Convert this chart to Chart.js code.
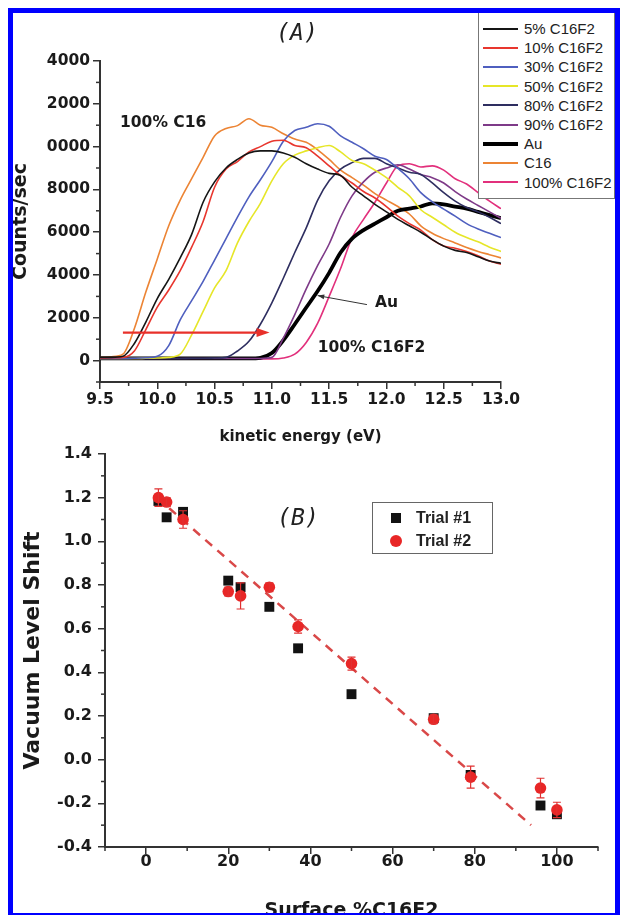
<!DOCTYPE html>
<html><head><meta charset="utf-8">
<script src="https://cdn.jsdelivr.net/npm/chart.js@4.4.1/dist/chart.umd.min.js"></script>
<style>
html,body{margin:0;padding:0;background:#fff;}
body{width:621px;height:915px;overflow:hidden;position:relative;font-family:"DejaVu Sans",sans-serif;}
canvas{position:absolute;left:0;}
#cA{top:0;}
#cB{top:440px;}
.frame{position:absolute;left:8px;top:8px;width:612px;height:910px;box-sizing:border-box;border:5px solid #0000ff;z-index:10;pointer-events:none;}
.panel{position:absolute;width:80px;text-align:center;font-family:"DejaVu Sans Mono",monospace;font-style:italic;font-size:23px;line-height:28px;color:#222;}
#legA{position:absolute;left:478px;top:12px;width:137px;height:187px;box-sizing:border-box;border:1px solid #777;background:#fff;font-family:"Liberation Sans",Arial,sans-serif;font-size:15px;color:#222;}
#legA .row{position:absolute;left:4px;height:19px;line-height:19px;white-space:nowrap;}
#legA .sw{position:absolute;left:0;width:35px;}
#legA .tx{position:absolute;left:41px;top:0;}
#legB{position:absolute;left:372px;top:502px;width:121px;height:52px;box-sizing:border-box;border:1px solid #666;background:#fff;font-family:"Liberation Sans",Arial,sans-serif;font-weight:bold;font-size:16px;color:#222;}
#legB .row{position:absolute;left:0;height:22px;line-height:22px;white-space:nowrap;}
#legB .mk{position:absolute;}
#legB .tx{position:absolute;left:43px;top:0;}
</style>
</head>
<body>
<canvas id="cA" width="621" height="460"></canvas>
<canvas id="cB" width="621" height="490"></canvas>
<div class="panel" style="left:257px;top:18px">(A)</div>
<div class="panel" style="left:258px;top:503px">(B)</div>
<div id="legA"></div>
<div id="legB"></div>
<div class="frame"></div>
<script>
// ---------- Panel A data ----------
const energy = [9.5,9.6,9.7,9.8,9.9,10.0,10.1,10.2,10.3,10.4,10.5,10.6,10.7,10.8,10.9,11.0,11.1,11.2,11.3,11.4,11.5,11.6,11.7,11.8,11.9,12.0,12.1,12.2,12.3,12.4,12.5,12.6,12.7,12.8,12.9,13.0];
const c5   = [150,150,200,800,1800,2900,3800,4800,5900,7400,8350,9000,9400,9700,9800,9800,9700,9500,9200,8950,8750,8650,8100,7700,7300,6950,6600,6300,6000,5650,5350,5150,5050,4850,4650,4550];
const c10  = [120,130,150,450,1450,2500,3300,4200,5300,6500,8100,8950,9300,9750,10000,10250,10300,10050,9950,9550,9100,8650,8300,7900,7600,7200,6750,6400,6100,5650,5350,5250,5100,4900,4650,4500];
const c30  = [100,100,100,110,130,200,700,1900,2800,3700,4700,5700,6700,7650,8450,9300,10250,10750,10900,11070,10950,10500,10200,9900,9550,9400,8980,8500,7850,7420,7080,6750,6400,6150,5950,5750];
const c50  = [100,100,100,100,110,120,150,300,1200,2300,3400,4200,5500,6500,7350,8400,9200,9600,9800,9950,10050,9750,9350,9200,8900,8550,8100,7700,7050,6700,6350,6000,5750,5550,5300,5100];
const c80  = [100,100,100,100,100,100,100,100,110,110,120,150,450,900,1700,2700,3850,5050,6200,7500,8400,8950,9250,9450,9450,9200,9000,8800,8700,8300,7850,7450,7150,6950,6700,6400];
const c90  = [100,100,100,100,100,100,100,100,100,100,100,100,100,100,100,150,1050,2150,3350,4450,5450,6700,7700,8350,8800,9000,9150,8950,8700,8550,8300,7900,7550,7250,6950,6650];
const auCurve = [100,100,100,100,100,100,100,100,100,100,100,100,100,100,130,350,950,1700,2480,3250,4100,5050,5700,6100,6400,6700,7000,7100,7200,7350,7300,7200,7100,6950,6800,6650];
const c16  = [150,180,300,1500,3200,4750,6300,7500,8500,9500,10500,10850,10980,11300,11000,10900,10600,10350,10200,9850,9400,8900,8550,8200,7800,7500,7200,6850,6300,5950,5700,5500,5280,5100,4950,4800];
const c100 = [80,80,80,80,80,80,80,80,80,80,80,80,80,80,80,80,120,300,850,1750,3000,4300,5750,6600,7400,8300,9100,9200,9050,9100,8900,8500,8250,7850,7450,7100];

const seriesNamesA = ["5% C16F2","10% C16F2","30% C16F2","50% C16F2","80% C16F2","90% C16F2","Au","C16","100% C16F2"];
const seriesA = [c5, c10, c30, c50, c80, c90, auCurve, c16, c100];
const colorsA = ["#151515","#e8362e","#4f5fbf","#e6e628","#2e2e60","#7e3a88","#000000","#ec8434","#e2307c"];
const widthsA = [1.6,1.6,1.6,1.6,1.6,1.6,3.8,1.6,1.6];

const energyTicks = [9.5,10.0,10.5,11.0,11.5,12.0,12.5,13.0];
const energyMinor = [9.75,10.25,10.75,11.25,11.75,12.25,12.75];
const countTicks = [0,2000,4000,6000,8000,10000,12000,14000];
const countTickLabels = ["0","2000","4000","6000","8000","0000","2000","4000"];
const countMinor = [-1000,1000,3000,5000,7000,9000,11000,13000];

// ---------- Panel B data ----------
const trialNames = ["Trial #1","Trial #2"];
const surfX  = [3,5,9,20,23,30,37,50,70,79,96,100];
const trial1 = [1.185,1.11,1.135,0.82,0.79,0.70,0.51,0.30,0.19,-0.07,-0.21,-0.25];
const trial2 = [1.20,1.18,1.10,0.77,0.75,0.79,0.61,0.44,0.185,-0.08,-0.13,-0.23];
const trial2Err = [0.04,0.02,0.04,0.02,0.06,0.02,0.03,0.03,0.02,0.05,0.045,0.035];
const fitX = [2.7,93.7];
const fitY = [1.20,-0.30];
const surfTicks = [0,20,40,60,80,100];
const surfMinor = [-10,10,30,50,70,90,110];
const shiftTicks = [-0.4,-0.2,0.0,0.2,0.4,0.6,0.8,1.0,1.2,1.4];
const shiftMinor = [-0.3,-0.1,0.1,0.3,0.5,0.7,0.9,1.1,1.3];

// ---------- plugins ----------
const minorTicks = {
  id:'minorTicks',
  afterDraw(chart, args, o){
    const ctx = chart.ctx, xs = chart.scales.x, ys = chart.scales.y;
    ctx.save(); ctx.strokeStyle = o.color; ctx.lineWidth = o.width;
    (o.x||[]).forEach(v=>{const p=xs.getPixelForValue(v);ctx.beginPath();ctx.moveTo(p,xs.top);ctx.lineTo(p,xs.top+o.length);ctx.stroke();});
    (o.y||[]).forEach(v=>{const p=ys.getPixelForValue(v);ctx.beginPath();ctx.moveTo(ys.right,p);ctx.lineTo(ys.right-o.length,p);ctx.stroke();});
    ctx.restore();
  }
};

const annotA = {
  id:'annotA',
  afterDatasetsDraw(chart, args, o){
    const ctx = chart.ctx, xs = chart.scales.x, ys = chart.scales.y;
    const X = v=>xs.getPixelForValue(v), Y = v=>ys.getPixelForValue(v);
    ctx.save();
    const a = o.arrow;
    const x1=X(a.from[0]), y1=Y(a.from[1]), x2=X(a.to[0]), y2=Y(a.to[1]);
    ctx.strokeStyle=a.color; ctx.fillStyle=a.color; ctx.lineWidth=2.2;
    ctx.beginPath(); ctx.moveTo(x1,y1); ctx.lineTo(x2-10,y2); ctx.stroke();
    ctx.beginPath(); ctx.moveTo(x2,y2); ctx.lineTo(x2-13,y2-4.5); ctx.lineTo(x2-13,y2+4.5); ctx.closePath(); ctx.fill();
    const p = o.pointer;
    const px1=X(p.from[0]), py1=Y(p.from[1]), px2=X(p.to[0]), py2=Y(p.to[1]);
    ctx.strokeStyle='#333'; ctx.fillStyle='#333'; ctx.lineWidth=1;
    ctx.beginPath(); ctx.moveTo(px1,py1); ctx.lineTo(px2,py2); ctx.stroke();
    const ang = Math.atan2(py2-py1, px2-px1);
    ctx.beginPath(); ctx.moveTo(px2,py2);
    ctx.lineTo(px2-7*Math.cos(ang-0.35), py2-7*Math.sin(ang-0.35));
    ctx.lineTo(px2-7*Math.cos(ang+0.35), py2-7*Math.sin(ang+0.35));
    ctx.closePath(); ctx.fill();
    ctx.fillStyle='#1a1a1a'; ctx.font='bold 15.5px "DejaVu Sans"'; ctx.textAlign='left'; ctx.textBaseline='middle';
    o.texts.forEach(t=>ctx.fillText(t.text, X(t.at[0]), Y(t.at[1])));
    ctx.restore();
  }
};

const errBars = {
  id:'errBars',
  afterDatasetsDraw(chart, args, o){
    const ctx = chart.ctx, xs = chart.scales.x, ys = chart.scales.y;
    ctx.save(); ctx.strokeStyle=o.color; ctx.lineWidth=1.2;
    o.x.forEach((xv,i)=>{
      const px=xs.getPixelForValue(xv), lo=ys.getPixelForValue(o.y[i]-o.err[i]), hi=ys.getPixelForValue(o.y[i]+o.err[i]);
      ctx.beginPath(); ctx.moveTo(px,lo); ctx.lineTo(px,hi);
      ctx.moveTo(px-4,lo); ctx.lineTo(px+4,lo); ctx.moveTo(px-4,hi); ctx.lineTo(px+4,hi); ctx.stroke();
    });
    ctx.restore();
  }
};

const axisCol = '#333';
const tickFont = (s)=>({family:'DejaVu Sans', weight:'bold', size:s, lineHeight:1});

// ---------- Chart A ----------
new Chart(document.getElementById('cA'), {
  type:'line',
  data:{ datasets: seriesA.map((arr,i)=>({
    label: seriesNamesA[i],
    data: energy.map((e,j)=>({x:e, y:arr[j]})),
    borderColor: colorsA[i], backgroundColor: colorsA[i], borderWidth: widthsA[i],
    pointRadius:0, fill:false, cubicInterpolationMode:'monotone'
  }))},
  options:{
    responsive:false, animation:false, devicePixelRatio:1,
    layout:{padding:{left:0, top:61, right:120, bottom:0}},
    plugins:{
      legend:{display:false}, tooltip:{enabled:false},
      minorTicks:{x:energyMinor, y:countMinor, length:4, color:axisCol, width:1.5},
      annotA:{
        arrow:{from:[9.70,1310], to:[10.98,1310], color:'#e8302a'},
        pointer:{from:[11.83,2617], to:[11.40,3037]},
        texts:[{text:'100% C16', at:[9.675,11120]},{text:'Au', at:[11.90,2710]},{text:'100% C16F2', at:[11.40,607]}]
      }
    },
    scales:{
      x:{type:'linear', min:9.5, max:13.0,
        afterBuildTicks(s){ s.ticks = energyTicks.map(v=>({value:v})); },
        afterFit(s){ s.height = 78; },
        border:{color:axisCol, width:2},
        grid:{drawOnChartArea:false, drawTicks:true, tickLength:7, color:axisCol, lineWidth:1.5},
        ticks:{font:tickFont(15.5), color:'#1a1a1a', padding:3, maxRotation:0, autoSkip:false, callback:v=>Number(v).toFixed(1)},
        title:{display:true, text:'kinetic energy (eV)', color:'#1a1a1a', font:{family:'DejaVu Sans', weight:'bold', size:15}, padding:{top:0,bottom:14}}
      },
      y:{type:'linear', min:-1000, max:14000,
        afterBuildTicks(s){ s.ticks = countTicks.map(v=>({value:v})); },
        afterFit(s){ s.width = 100; },
        border:{color:axisCol, width:2},
        grid:{drawOnChartArea:false, drawTicks:true, tickLength:7, color:axisCol, lineWidth:1.5},
        ticks:{font:tickFont(15.5), color:'#1a1a1a', padding:3, autoSkip:false, callback:v=>countTickLabels[countTicks.indexOf(v)]},
        title:{display:true, text:'Counts/sec', color:'#1a1a1a', font:{family:'DejaVu Sans', weight:'bold', size:19}, padding:{top:10,bottom:0}}
      }
    }
  },
  plugins:[minorTicks, annotA]
});

// ---------- Chart B ----------
new Chart(document.getElementById('cB'), {
  type:'scatter',
  data:{ datasets:[
    {label:'fit', data: fitX.map((x,i)=>({x, y:fitY[i]})), showLine:true, borderColor:'#d94848', borderDash:[9,7], borderWidth:2.5, pointRadius:0, order:3},
    {label:trialNames[0], data: surfX.map((x,i)=>({x, y:trial1[i]})), pointStyle:'rect', pointRadius:7, backgroundColor:'#121212', borderColor:'#121212', borderWidth:0, order:2},
    {label:trialNames[1], data: surfX.map((x,i)=>({x, y:trial2[i]})), pointStyle:'circle', pointRadius:5.8, backgroundColor:'#e82626', borderColor:'#e82626', borderWidth:0, order:1}
  ]},
  options:{
    responsive:false, animation:false, devicePixelRatio:1,
    layout:{padding:{left:0, top:9, right:23, bottom:0}},
    plugins:{
      legend:{display:false}, tooltip:{enabled:false},
      minorTicks:{x:surfMinor, y:shiftMinor, length:4, color:axisCol, width:1.5},
      errBars:{x:surfX, y:trial2, err:trial2Err, color:'#e03030'}
    },
    scales:{
      x:{type:'linear', min:-10, max:110,
        afterBuildTicks(s){ s.ticks = surfTicks.map(v=>({value:v})); },
        afterFit(s){ s.height = 83; },
        border:{color:axisCol, width:2},
        grid:{drawOnChartArea:false, drawTicks:true, tickLength:7, color:axisCol, lineWidth:1.5},
        ticks:{font:tickFont(16), color:'#1a1a1a', padding:0, maxRotation:0, autoSkip:false, callback:v=>String(v)},
        title:{display:true, text:'Surface %C16F2', color:'#1a1a1a', font:{family:'DejaVu Sans', weight:'bold', size:19}, padding:{top:0,bottom:8}}
      },
      y:{type:'linear', min:-0.4, max:1.4,
        afterBuildTicks(s){ s.ticks = shiftTicks.map(v=>({value:v})); },
        afterFit(s){ s.width = 105; },
        border:{color:axisCol, width:2},
        grid:{drawOnChartArea:false, drawTicks:true, tickLength:7, color:axisCol, lineWidth:1.5},
        ticks:{font:tickFont(16), color:'#1a1a1a', padding:6, autoSkip:false, callback:v=>Number(v).toFixed(1)},
        title:{display:true, text:'Vacuum Level Shift', color:'#1a1a1a', font:{family:'DejaVu Sans', weight:'bold', size:22}, padding:{top:20,bottom:0}}
      }
    }
  },
  plugins:[minorTicks, errBars]
});

// ---------- HTML legends ----------
const legA = document.getElementById('legA');
seriesNamesA.forEach((n,i)=>{
  const row = document.createElement('div'); row.className='row'; row.style.top = (6 + 19.2*i) + 'px';
  const sw = document.createElement('div'); sw.className='sw';
  const h = widthsA[i] > 2 ? 4 : 2; sw.style.height = h+'px'; sw.style.top = (9.5 - h/2)+'px'; sw.style.background = colorsA[i];
  const tx = document.createElement('div'); tx.className='tx'; tx.textContent = n;
  row.appendChild(sw); row.appendChild(tx); legA.appendChild(row);
});
const legB = document.getElementById('legB');
trialNames.forEach((n,i)=>{
  const row = document.createElement('div'); row.className='row'; row.style.top = (4 + 23*i) + 'px';
  const mk = document.createElement('div'); mk.className='mk';
  if (i===0){ mk.style.cssText='left:18px;top:6px;width:10px;height:10px;background:#121212;'; }
  else { mk.style.cssText='left:17px;top:5px;width:12px;height:12px;border-radius:50%;background:#e82626;'; }
  const tx = document.createElement('div'); tx.className='tx'; tx.textContent = n;
  row.appendChild(mk); row.appendChild(tx); legB.appendChild(row);
});
</script>
</body></html>
